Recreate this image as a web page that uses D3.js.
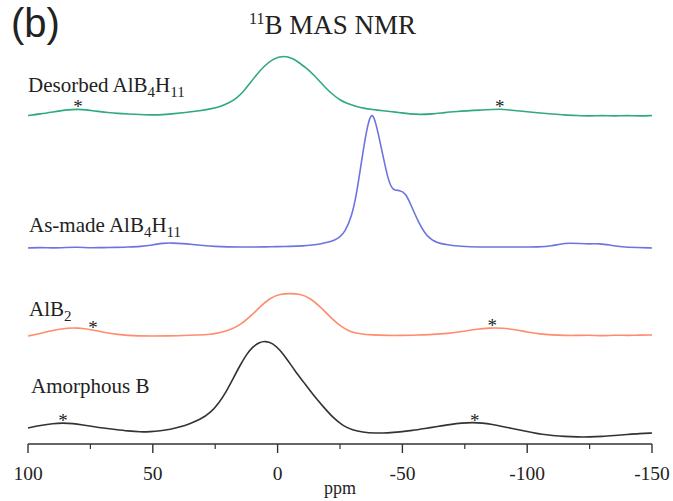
<!DOCTYPE html>
<html><head><meta charset="utf-8">
<script src="https://cdn.jsdelivr.net/npm/d3@7"></script>
<style>
html,body{margin:0;padding:0;background:#fff;}
svg{display:block;}
</style></head>
<body>
<svg id="chart" width="673" height="501"></svg>
<script>
// ---- data (ppm, intensity above each trace's own baseline) ----
const seriesNames = ["Amorphous B", "AlB2", "As-made AlB4H11", "Desorbed AlB4H11"];
const stackOffsets = [14, 109, 197, 329];
const amorphousB = [[100,2],[95,4.5],[90,6.5],[86,7],[82,6.5],[78,5],[74,3.5],[70,2],[65,0.5],[60,-1],[55,-2],[51,-1.7],[47,-0.8],[43,0.7],[39,3],[35,6.5],[31,10.5],[27,17],[23.5,27],[20.4,39],[17.7,52],[15.2,64],[12.4,76],[10,83],[7.5,87.5],[5,89],[2,87],[-1,80],[-4,70],[-7,59],[-10.3,48.3],[-14.3,35],[-18.3,23.3],[-22.3,12],[-26.3,4],[-30,0],[-34,-2.2],[-39,-3.2],[-44,-3],[-49,-2],[-54,-0.5],[-59,1.5],[-64,3.5],[-69,5.5],[-74,7],[-78,7.5],[-82,7],[-86,5.5],[-90,3.5],[-94,1.5],[-98,-0.5],[-102,-2.5],[-106,-4.5],[-110,-5.5],[-115,-6.5],[-120,-7],[-125,-7],[-130,-6.5],[-135,-5.5],[-140,-4.5],[-145,-3.5],[-150,-3]];
const alB2 = [[100,-1],[96,1],[92,3.5],[88,5.5],[84,7],[80,7],[76,6],[72,4],[68,2],[64,0.5],[60,-0.5],[56,-1],[50,-1],[44,-1],[38,-0.5],[32,0],[27,0.5],[23,2.5],[19,5],[15,10],[11,18.3],[7,28.3],[3,37],[-1,41],[-5,41.5],[-9,41],[-13,37],[-17,28.3],[-21,18.3],[-25,9],[-29,3.3],[-33,1],[-38,0],[-44,-0.5],[-50,-0.5],[-56,0],[-62,0.5],[-68,1.5],[-74,3.5],[-80,6],[-85,7],[-90,7],[-95,5.5],[-100,3],[-105,1],[-110,0],[-115,-0.5],[-120,-0.5],[-125,0],[-130,-1],[-135,0],[-140,-0.5],[-145,0],[-150,0]];
const asMade = [[100,-1],[95,-0.5],[90,-1],[85,-0.5],[80,0],[75,-1],[70,-0.5],[65,-0.5],[60,0],[55,0.5],[50,2],[46,4],[42,4],[38,3.5],[34,2.5],[30,1.5],[25,0.5],[20,0],[15,0],[10,0],[5,0],[0,0.5],[-5,0.5],[-10,1],[-14,2],[-17,3],[-20,4.5],[-23,7],[-25,10],[-27,15.3],[-29.7,30.3],[-31.7,53.7],[-33.7,87],[-35.7,118],[-37.3,133],[-38.6,131],[-40.3,114],[-42.3,90.3],[-44.3,67],[-46.1,56.3],[-49,57],[-51.4,53.7],[-53.7,40.3],[-56.4,25],[-59.7,10.3],[-63.7,3.7],[-70,1.3],[-77,0],[-85,0],[-95,0],[-105,0],[-110,1],[-113,3],[-117,4],[-121,3.5],[-125,3],[-129,3.5],[-133,2],[-138,0],[-144,-0.5],[-150,-1]];
const desorbed = [[100,-0.5],[95,1],[90,3],[85,5],[80,6],[76,5],[72,3.5],[68,2.5],[64,1.5],[60,1],[55,0.5],[50,0],[46,0.3],[43,1],[37,2.5],[31,4.3],[27,6],[23,8.3],[19.5,12],[16.4,16.7],[13.5,24],[11.1,31.7],[8.5,40],[5.7,48.3],[1.7,56.5],[-2.3,59.5],[-6.3,56.5],[-9,51.5],[-11.7,46.7],[-14.5,40],[-17,33.3],[-19.5,26.5],[-22.3,20],[-25,15],[-27.7,11.7],[-31,9],[-34.3,6.7],[-38,5.5],[-42.3,4.3],[-46,3.2],[-49,2.3],[-53,1],[-57,0.5],[-62,1],[-67,2.5],[-72,3.5],[-77,4.5],[-82,5],[-86,5.5],[-89,6],[-93,5],[-97,4],[-101,3],[-105,2],[-110,1],[-115,0],[-120,-0.5],[-125,-1],[-130,-0.5],[-135,-1],[-140,-0.5],[-145,-1],[-150,-0.5]];
// spinning side-band markers: [series index, ppm]
const sidebands = [[0,86],[0,-79],[1,74],[1,-86],[3,80],[3,-89]];
const majorTicks = [100, 50, 0, -50, -100, -150];
const minorTicks = [75, 25, -25, -75, -125];
const xTitle = "ppm";

// ---- layout ----
const SERIF = "'Liberation Serif', Tinos, 'Times New Roman', serif";
const svg = d3.select("#chart");
const x = d3.scaleLinear().domain([100, -150]).range([28, 652]);
const y = d3.scaleLinear().domain([0, 444]).range([444, 0]);
const colors = ["#333333", "#ff8c6c", "#6c74e0", "#30a982"];
const traces = [amorphousB, alB2, asMade, desorbed];

const line = d3.line().curve(d3.curveBasis);
traces.forEach((t, i) => {
  line.x(d => x(d[0])).y(d => y(d[1] + stackOffsets[i]));
  svg.append("path").datum(t).attr("d", line)
    .attr("fill", "none").attr("stroke", colors[i]).attr("stroke-width", 1.6)
    .attr("stroke-linejoin", "round");
});

function txt(sel) { return sel.attr("font-family", SERIF).style("font-family", SERIF).attr("fill", "#222"); }

// sideband asterisks
function valueAt(t, p) {
  for (let k = 0; k < t.length - 1; k++) {
    const a = t[k], b = t[k+1];
    if (p <= a[0] && p >= b[0]) { const f = (a[0]-p)/(a[0]-b[0]); return a[1] + f*(b[1]-a[1]); }
  }
  return 0;
}
sidebands.forEach(([si, p]) => {
  txt(svg.append("text")).attr("x", x(p)).attr("y", y(valueAt(traces[si], p) + stackOffsets[si]) + 4)
    .attr("text-anchor", "middle").attr("font-size", 19).text("*");
});

// axis
const axisG = svg.append("g").attr("transform", "translate(0,444)");
axisG.append("line").attr("x1", x(100)).attr("x2", x(-150)).attr("stroke", "#333").attr("stroke-width", 1.4);
axisG.selectAll(".maj").data(majorTicks).join("line")
  .attr("x1", d => x(d)).attr("x2", d => x(d)).attr("y1", 0).attr("y2", 9)
  .attr("stroke", "#333").attr("stroke-width", 1.4);
axisG.selectAll(".min").data(minorTicks).join("line")
  .attr("x1", d => x(d)).attr("x2", d => x(d)).attr("y1", 0).attr("y2", 5)
  .attr("stroke", "#333").attr("stroke-width", 1.2);
txt(axisG.selectAll(".lbl").data(majorTicks).join("text"))
  .attr("x", d => x(d)).attr("y", 36).attr("text-anchor", "middle")
  .attr("font-size", 19.5)
  .text(d => d === 0 ? "0" : (d < 0 ? "-" + Math.abs(d) : String(d)));
txt(svg.append("text")).attr("x", 340).attr("y", 494).attr("text-anchor", "middle")
  .attr("font-size", 18).text(xTitle);

// title and panel letter
const title = txt(svg.append("text")).attr("x", 249).attr("y", 34).attr("font-size", 27);
title.append("tspan").attr("font-size", 16).attr("dy", -10).text("11");
title.append("tspan").attr("dy", 10).text("B MAS NMR");
svg.append("text").attr("x", 11).attr("y", 37).attr("font-size", 40).attr("fill", "#222")
  .style("font-family", "'Liberation Sans', Arial, sans-serif").text("(b)");

// trace labels
function chem(xp, yp, parts) {
  const t = txt(svg.append("text")).attr("x", xp).attr("y", yp).attr("font-size", 21);
  let shifted = false;
  parts.forEach(p => {
    if (typeof p === "string") {
      t.append("tspan").attr("dy", shifted ? -5 : 0).text(p); shifted = false;
    } else {
      t.append("tspan").attr("font-size", 15).attr("dy", shifted ? 0 : 5).text(p.sub); shifted = true;
    }
  });
}
chem(28, 92, ["Desorbed AlB", {sub:"4"}, "H", {sub:"11"}]);
chem(29, 232, ["As-made AlB", {sub:"4"}, "H", {sub:"11"}]);
chem(29, 316, ["AlB", {sub:"2"}]);
chem(31, 393, ["Amorphous B"]);
</script>
</body></html>
